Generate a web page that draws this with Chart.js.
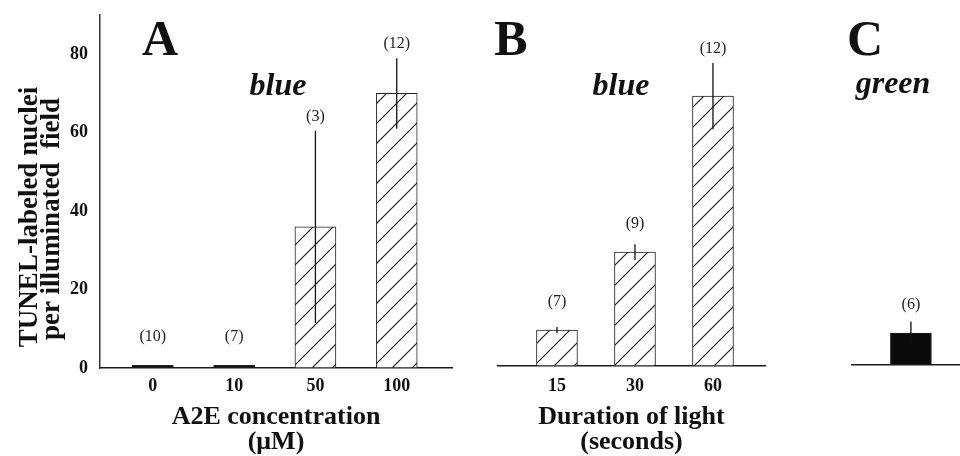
<!DOCTYPE html>
<html>
<head>
<meta charset="utf-8">
<title>TUNEL-labeled nuclei</title>
<script src="https://cdn.jsdelivr.net/npm/chart.js@4.4.1/dist/chart.umd.min.js"></script>
<style>
    html, body { margin: 0; padding: 0; background: #fff; }
    #wrap { position: relative; width: 960px; height: 456px; }
    #wrap canvas { position: absolute; left: 0; top: 0; }
</style>
</head>
<body>
<div id="wrap">
    <canvas id="panel-a" width="960" height="456"></canvas>
    <canvas id="panel-b" width="960" height="456"></canvas>
    <canvas id="panel-c" width="960" height="456"></canvas>
</div>
<script>
// Panel A: A2E concentration (uM), blue light
const concLabels = ['0', '10', '50', '100'];
const concMeans = [0.7, 0.7, 36, 70];
const concErrors = [0, 0, 24.5, 9];
const concCounts = [10, 7, 3, 12];

// Panel B: duration of blue light (seconds)
const durationLabels = ['15', '30', '60'];
const durationMeans = [9.2, 29.2, 69.2];
const durationErrors = [0.8, 2, 8.5];
const durationCounts = [7, 9, 12];

// Panel C: green light
const greenMeans = [8.2];
const greenErrors = [3];
const greenCounts = [6];

const yTicks = [0, 20, 40, 60, 80];
const yMax = 90;

const SERIF = '"Liberation Serif", "Times New Roman", serif';
Chart.defaults.font.family = SERIF;
Chart.defaults.color = '#111';

function makeHatch() {
    const c = document.createElement('canvas');
    c.width = 20;
    c.height = 20;
    const g = c.getContext('2d');
    g.fillStyle = '#fff';
    g.fillRect(0, 0, 20, 20);
    g.strokeStyle = '#151515';
    g.lineWidth = 1.1;
    g.beginPath();
    // lines x + y = 0, 20, 40 so the tile repeats seamlessly
    g.moveTo(-2, 2); g.lineTo(2, -2);
    g.moveTo(-2, 22); g.lineTo(22, -2);
    g.moveTo(18, 22); g.lineTo(22, 18);
    g.stroke();
    return g.createPattern(c, 'repeat');
}
const hatch = makeHatch();

// error bars and "(n)" counts above the bars
const errorBarPlugin = {
    id: 'errorBars',
    afterDatasetsDraw(chart) {
        const ctx = chart.ctx;
        const y = chart.scales.y;
        chart.data.datasets.forEach((ds, di) => {
            const meta = chart.getDatasetMeta(di);
            meta.data.forEach((bar, i) => {
                const mean = ds.data[i].y;
                const err = ds.errors[i];
                const errTop = y.getPixelForValue(mean + err);
                ctx.save();
                if (err > 0) {
                    ctx.strokeStyle = '#111';
                    ctx.lineWidth = 1.3;
                    ctx.beginPath();
                    ctx.moveTo(bar.x, y.getPixelForValue(mean - err));
                    ctx.lineTo(bar.x, errTop);
                    ctx.stroke();
                }
                ctx.fillStyle = '#222';
                ctx.font = '16px ' + SERIF;
                ctx.textAlign = 'center';
                ctx.textBaseline = 'middle';
                const ly = Math.min(errTop - 14, y.getPixelForValue(mean) - 28);
                ctx.fillText('(' + ds.counts[i] + ')', bar.x, ly);
                ctx.restore();
            });
        });
    }
};

// panel letters, light colour and the y title
const panelTextPlugin = {
    id: 'panelText',
    afterDraw(chart, args, opts) {
        const ctx = chart.ctx;
        (opts.items || []).forEach(item => {
            ctx.save();
            ctx.font = item.font;
            ctx.fillStyle = '#111';
            ctx.textAlign = 'center';
            ctx.textBaseline = 'alphabetic';
            ctx.translate(item.x, item.y);
            if (item.rotate) ctx.rotate(item.rotate);
            ctx.fillText(item.text, 0, 0);
            ctx.restore();
        });
    }
};

function barDataset(means, errors, counts, fill) {
    return {
        data: means.map((v, i) => ({ x: i, y: v })),
        errors: errors,
        counts: counts,
        // bars that sit on the baseline show as a solid black strip
        backgroundColor: means.map(v => (v < 1 ? '#111' : fill)),
        borderColor: '#222',
        borderWidth: 1,
        borderSkipped: false,
        barThickness: 41
    };
}

function xScale(labels, min, max, height, padding, title) {
    return {
        type: 'linear',
        min: min,
        max: max,
        offset: false,
        grid: { display: false, offset: false },
        border: { display: true, color: '#1a1a1a', width: 1.5 },
        afterBuildTicks: axis => { axis.ticks = labels.map((_, i) => ({ value: i })); },
        afterFit: scale => { scale.height = height; },
        ticks: {
            display: labels.length > 0,
            padding: padding,
            font: { size: 18, weight: 'bold' },
            callback: v => labels[v]
        },
        title: title ? {
            display: true,
            text: title,
            font: { size: 26, weight: 'bold', lineHeight: 25 / 26 },
            padding: { top: 0, bottom: 1 }
        } : { display: false }
    };
}

function yScale(visible) {
    return {
        display: visible,
        min: 0,
        max: yMax,
        grid: { display: false },
        border: { display: true, color: '#333', width: 1.5 },
        afterFit: scale => { scale.width = visible ? 100 : 0; },
        afterBuildTicks: axis => { axis.ticks = yTicks.map(v => ({ value: v })); },
        ticks: {
            padding: 4,
            font: { size: 18, weight: 'bold' }
        }
    };
}

function baseOptions(padding, scales, items) {
    return {
        responsive: false,
        animation: false,
        events: [],
        layout: { padding: padding },
        scales: scales,
        plugins: {
            legend: { display: false },
            tooltip: { enabled: false },
            panelText: { items: items }
        }
    };
}

new Chart(document.getElementById('panel-a'), {
    type: 'bar',
    data: { datasets: [barDataset(concMeans, concErrors, concCounts, hatch)] },
    options: baseOptions(
        { left: 0, right: 508, top: 15, bottom: 0 },
        {
            x: xScale(concLabels, -0.65, 3.68, 88, 0, ['A2E concentration', '(\u03bcM)']),
            y: yScale(true)
        },
        [
            { text: 'A', x: 160, y: 55, font: 'bold 50px ' + SERIF },
            { text: 'blue', x: 278, y: 95, font: 'italic bold 32px ' + SERIF },
            { text: 'TUNEL-labeled nuclei', x: 37, y: 217, rotate: -Math.PI / 2, font: 'bold 27px ' + SERIF },
            { text: 'per illuminated  field', x: 59, y: 219, rotate: -Math.PI / 2, font: 'bold 27px ' + SERIF }
        ]
    ),
    plugins: [errorBarPlugin, panelTextPlugin]
});

new Chart(document.getElementById('panel-b'), {
    type: 'bar',
    data: { datasets: [barDataset(durationMeans, durationErrors, durationCounts, hatch)] },
    options: baseOptions(
        { left: 498, right: 195, top: 15, bottom: 0 },
        {
            x: xScale(durationLabels, -0.756, 2.667, 90, 2, ['Duration of light', '(seconds)']),
            y: yScale(false)
        },
        [
            { text: 'B', x: 511, y: 55, font: 'bold 50px ' + SERIF },
            { text: 'blue', x: 621, y: 95, font: 'italic bold 32px ' + SERIF }
        ]
    ),
    plugins: [errorBarPlugin, panelTextPlugin]
});

new Chart(document.getElementById('panel-c'), {
    type: 'bar',
    data: { datasets: [barDataset(greenMeans, greenErrors, greenCounts, '#0a0a0a')] },
    options: baseOptions(
        { left: 852, right: 0, top: 15, bottom: 0 },
        {
            x: xScale([], -0.6, 0.5, 91, 0, null),
            y: yScale(false)
        },
        [
            { text: 'C', x: 865, y: 55, font: 'bold 50px ' + SERIF },
            { text: 'green', x: 893, y: 93, font: 'italic bold 32px ' + SERIF }
        ]
    ),
    plugins: [errorBarPlugin, panelTextPlugin]
});
</script>
</body>
</html>
